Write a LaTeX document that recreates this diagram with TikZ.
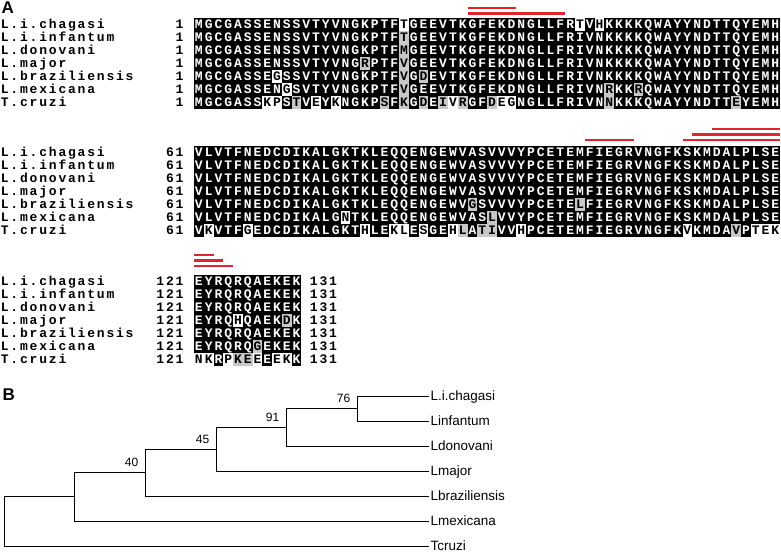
\documentclass[tikz,border=0pt]{standalone}
\usepackage{fontspec}
\setmainfont{Liberation Sans}
\newfontfamily\monofont{Liberation Mono}
\usetikzlibrary{calc}
\definecolor{barred}{HTML}{E2242C}
\definecolor{seqgray}{HTML}{C8C8C8}
\tikzset{
  seqchar/.style={font=\monofont\bfseries\fontsize{13}{13}\selectfont,inner sep=0pt,anchor=base},
  redbar/.style={draw=barred,line width=2.6pt},
  treeline/.style={draw=black,line width=0.9pt},
  leaflabel/.style={font=\fontsize{13.5}{14}\selectfont,inner xsep=1.5pt,inner ysep=0.3pt,text height=9.7pt,text depth=0pt,anchor=west},
  bootlabel/.style={font=\fontsize{12}{12}\selectfont,inner sep=0pt,text depth=0pt,anchor=south east},
  panel/.style={font=\bfseries\fontsize{17}{17}\selectfont,inner sep=0pt}
}
\makeatletter
\newcount\colidx
\def\cellw{9.77}
\def\sr@xo{194}
% alignment row: id, y, residues, exceptions (e.g. 22w,40g)
\def\seqrow#1#2#3#4{\edef\sr@id{#1}\pgfmathsetmacro\sr@y{#2}\def\sr@exc{,#4,}\colidx=0 \sr@loop#3\@nil}
\def\sr@loop#1#2\@nil{%
  \advance\colidx by 1
  \sr@cell{#1}%
  \ifx\relax#2\relax\expandafter\@gobble\else\expandafter\@firstofone\fi{\sr@loop#2\@nil}}
\def\sr@cell#1{%
  \pgfmathsetmacro\sr@cx{\sr@xo+(\the\colidx-1)*\cellw}%
  \pgfmathsetmacro\sr@tx{\sr@cx+\cellw/2}%
  \pgfmathsetmacro\sr@ty{\sr@y+4.3}%
  \pgfmathsetmacro\sr@by{\sr@y-6.5}%
  \edef\sr@nm{\sr@id-\the\colidx}%
  \edef\sr@tmp{\noexpand\in@{,\the\colidx w,}{\sr@exc}}\sr@tmp
  \ifin@\def\sr@shade{w}\else
    \edef\sr@tmp{\noexpand\in@{,\the\colidx g,}{\sr@exc}}\sr@tmp
    \ifin@\def\sr@shade{g}\else\def\sr@shade{b}\fi
  \fi
  \if b\sr@shade
    \fill[black] (\sr@cx,\sr@by) rectangle ++(\cellw,13);
    \node[seqchar,text=white] (\sr@nm) at (\sr@tx,\sr@ty) {#1};
  \else
    \if g\sr@shade\fill[seqgray] (\sr@cx,\sr@by) rectangle ++(\cellw,13);\fi
    \node[seqchar] (\sr@nm) at (\sr@tx,\sr@ty) {#1};
  \fi}
% spaced text: id, x start, y, text
\def\txtrow#1#2#3#4{\edef\sr@id{#1}\def\tr@x{#2}\pgfmathsetmacro\sr@y{#3}\colidx=0 \tr@loop#4\@nil}
\def\tr@loop#1#2\@nil{%
  \advance\colidx by 1
  \pgfmathsetmacro\sr@tx{\tr@x+(\the\colidx-1)*9.6+4.8}%
  \pgfmathsetmacro\sr@ty{\sr@y+4.3}%
  \edef\sr@nm{\sr@id-\the\colidx}%
  \node[seqchar] (\sr@nm) at (\sr@tx,\sr@ty) {#1};
  \ifx\relax#2\relax\expandafter\@gobble\else\expandafter\@firstofone\fi{\tr@loop#2\@nil}}
\makeatother
\newcommand\alignnames[2]{%
  \txtrow{#1n1}{0}{#2}{L.i.chagasi}%
  \txtrow{#1n2}{0}{#2+13}{L.i.infantum}%
  \txtrow{#1n3}{0}{#2+26}{L.donovani}%
  \txtrow{#1n4}{0}{#2+39}{L.major}%
  \txtrow{#1n5}{0}{#2+52}{L.braziliensis}%
  \txtrow{#1n6}{0}{#2+65}{L.mexicana}%
  \txtrow{#1n7}{0}{#2+78}{T.cruzi}}
\begin{document}
\begin{tikzpicture}[x=1pt,y=-1pt]
\useasboundingbox (0,0) rectangle (781,554);
\node[panel,anchor=north west] (pA) at (1.5,1.5) {A};
% ---------- block 1 ----------
\alignnames{a}{24}
\foreach \r in {1,...,7} {\txtrow{sa\r}{174.7}{24+13*(\r-1)}{1}}
\seqrow{a1}{24}{MGCGASSENSSVTYVNGKPTFTGEEVTKGFEKDNGLLFRTVHKKKKQWAYYNDTTQYEMH}{22w,40w,42w}
\seqrow{a2}{37}{MGCGASSENSSVTYVNGKPTFTGEEVTKGFEKDNGLLFRIVNKKKKQWAYYNDTTQYEMH}{22g}
\seqrow{a3}{50}{MGCGASSENSSVTYVNGKPTFMGEEVTKGFEKDNGLLFRIVNKKKKQWAYYNDTTQYEMH}{22g}
\seqrow{a4}{63}{MGCGASSENSSVTYVNGRPTFVGEEVTKGFEKDNGLLFRIVNKKKKQWAYYNDTTQYEMH}{18g,22g}
\seqrow{a5}{76}{MGCGASSEGSSVTYVNGKPTFVGDEVTKGFEKDNGLLFRIVNKKKKQWAYYNDTTQYEMH}{9w,22g,24g}
\seqrow{a6}{89}{MGCGASSENGSVTYVNGKPTFVGEEVTKGFEKDNGLLFRIVNRKKRQWAYYNDTTQYEMH}{10w,22g,43g,46g}
\seqrow{a7}{102}{MGCGASSKPSTVEYKNGKPSFKGDEIVRGFDEGNGLLFRIVNNKKKQWAYYNDTTEYEMH}{8w,9w,11g,13w,15w,20g,22g,24g,26g,27w,28g,31g,32w,33w,43g,56g}
\draw[redbar] (467.56,8) -- (516.41,8);
\draw[redbar] (467.56,13.5) -- (565.26,13.5);
% ---------- block 2 ----------
\alignnames{b}{152.5}
\foreach \r in {1,...,7} {\txtrow{sb\r}{165.1}{152.5+13*(\r-1)}{61}}
\seqrow{b1}{152.5}{VLVTFNEDCDIKALGKTKLEQQENGEWVASVVVYPCETEMFIEGRVNGFKSKMDALPLSE}{}
\seqrow{b2}{165.5}{VLVTFNEDCDIKALGKTKLEQQENGEWVASVVVYPCETEMFIEGRVNGFKSKMDALPLSE}{}
\seqrow{b3}{178.5}{VLVTFNEDCDIKALGKTKLEQQENGEWVASVVVYPCETEMFIEGRVNGFKSKMDALPLSE}{}
\seqrow{b4}{191.5}{VLVTFNEDCDIKALGKTKLEQQENGEWVASVVVYPCETEMFIEGRVNGFKSKMDALPLSE}{}
\seqrow{b5}{204.5}{VLVTFNEDCDIKALGKTKLEQQENGEWVGSVVVYPCETELFIEGRVNGFKSKMDALPLSE}{29g,40g}
\seqrow{b6}{217.5}{VLVTFNEDCDIKALGNTKLEQQENGEWVASLVVYPCETEMFIEGRVNGFKSKMDALPLSE}{16w,31g}
\seqrow{b7}{230.5}{VKVTFGEDCDIKALGKTHLEKLESGEHLATIVVHPCETEMFIEGRVNGFKVKMDAVPTEK}{2w,6w,18w,21w,22w,24w,27w,28g,30g,31g,34w,51w,56g,58w,59w,60w}
\draw[redbar] (711.81,129) -- (780.2,129);
\draw[redbar] (692.27,134.5) -- (780.2,134.5);
\draw[redbar] (584.8,140) -- (633.65,140);
\draw[redbar] (682.5,140) -- (780.2,140);
% ---------- block 3 ----------
\alignnames{c}{281}
\foreach \r in {1,...,7} {\txtrow{sc\r}{155.5}{281+13*(\r-1)}{121}}
\foreach \r in {1,...,7} {\txtrow{ec\r}{309}{281+13*(\r-1)}{131}}
\seqrow{c1}{281}{EYRQRQAEKEK}{}
\seqrow{c2}{294}{EYRQRQAEKEK}{}
\seqrow{c3}{307}{EYRQRQAEKEK}{}
\seqrow{c4}{320}{EYRQHQAEKDK}{5w,10g}
\seqrow{c5}{333}{EYRQRQAEKEK}{}
\seqrow{c6}{346}{EYRQRQGEKEK}{7g}
\seqrow{c7}{359}{NKRPKEEEEKK}{1w,2w,4w,5g,6g,7w,9w,10w}
\draw[redbar] (194,255) -- (213.54,255);
\draw[redbar] (194,260.5) -- (223.31,260.5);
\draw[redbar] (194,266) -- (233.08,266);
% ---------- tree ----------
\node[panel,anchor=west] (pB) at (2.5,395) {B};
\coordinate (L1) at (429,396);
\coordinate (L2) at (429,421);
\coordinate (L3) at (429,446);
\coordinate (L4) at (429,471);
\coordinate (L5) at (429,496);
\coordinate (L6) at (429,521);
\coordinate (L7) at (429,546);
\coordinate (n76) at (357,408.5);
\coordinate (n91) at (286,427.25);
\coordinate (n45) at (216,449.125);
\coordinate (n40) at (145,472.5625);
\coordinate (n5) at (74,496.78);
\coordinate (root) at (4,521.39);
\node[leaflabel] (t1) at (L1) {L.i.chagasi};
\node[leaflabel] (t2) at (L2) {Linfantum};
\node[leaflabel] (t3) at (L3) {Ldonovani};
\node[leaflabel] (t4) at (L4) {Lmajor};
\node[leaflabel] (t5) at (L5) {Lbraziliensis};
\node[leaflabel] (t6) at (L6) {Lmexicana};
\node[leaflabel] (t7) at (L7) {Tcruzi};
\draw[treeline] (n76) |- (t1.west);
\draw[treeline] (n76) |- (t2.west);
\draw[treeline] (n91) |- (n76);
\draw[treeline] (n91) |- (t3.west);
\draw[treeline] (n45) |- (n91);
\draw[treeline] (n45) |- (t4.west);
\draw[treeline] (n40) |- (n45);
\draw[treeline] (n40) |- (t5.west);
\draw[treeline] (n5) |- (n40);
\draw[treeline] (n5) |- (t6.west);
\draw[treeline] (root) |- (n5);
\draw[treeline] (root) |- (t7.west);
\node[bootlabel] (bs76) at ($(n76)+(-6.5,-5.5)$) {76};
\node[bootlabel] (bs91) at ($(n91)+(-6.5,-5.5)$) {91};
\node[bootlabel] (bs45) at ($(n45)+(-6.5,-5.5)$) {45};
\node[bootlabel] (bs40) at ($(n40)+(-6.5,-5.5)$) {40};
\end{tikzpicture}
\end{document}
